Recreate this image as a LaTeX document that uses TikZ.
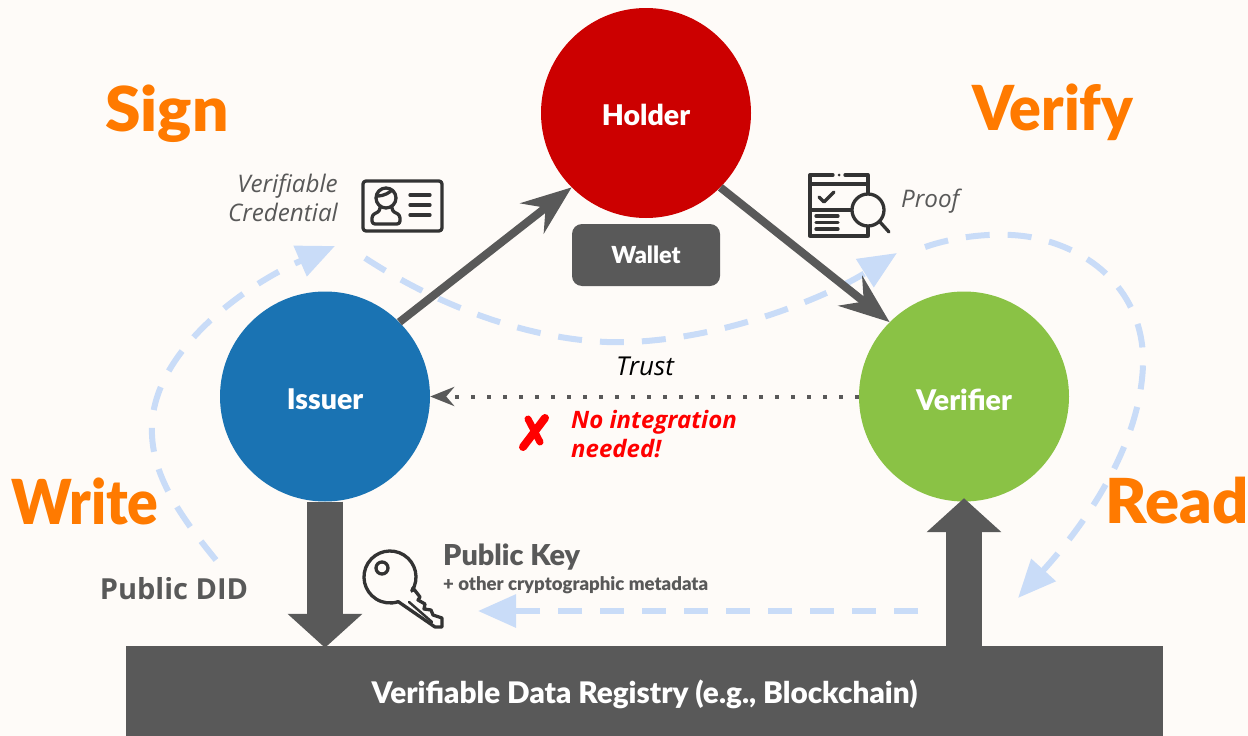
\documentclass[tikz,border=0pt]{standalone}
\usepackage{fontspec}
\setmainfont{Open Sans}
\newfontfamily\headfont[BoldFont={Lato Black}]{Lato}
\usetikzlibrary{arrows.meta,calc}
\newcommand{\dnbox}[2]{\raisebox{-#1}[\height][\depth]{#2}}
\definecolor{bgc}{HTML}{FEFBF8}
\definecolor{gr}{HTML}{595959}
\definecolor{ic}{HTML}{333333}
\definecolor{orng}{HTML}{FF7A00}
\definecolor{lb}{HTML}{C9DCF8}
\definecolor{hold}{HTML}{CC0000}
\definecolor{iss}{HTML}{1A73B3}
\definecolor{ver}{HTML}{8AC245}
\tikzset{
 circ/.style={circle,minimum size=210pt,inner sep=0pt,text=white,font=\headfont\bfseries\fontsize{28.5}{28}\selectfont},
 big/.style={text=orng,font=\headfont\bfseries\fontsize{62}{62}\selectfont,inner sep=0pt},
 thin arrow/.style={draw=gr,line width=8pt,-{Stealth[length=50pt,width=38pt,inset=17pt]}},
 fat arrow/.style={draw=gr,line width=36pt,-{Triangle[length=34pt,width=73pt]}},
 dash arrow/.style={draw=lb,line width=6pt,dash pattern=on 24pt off 18pt,-{Triangle[length=38pt,width=32pt]}},
 note/.style={text=gr,font=\itshape\fontsize{24.2}{29}\selectfont,inner sep=0pt},
 icon/.style={draw=ic,line width=3.3pt,line cap=round,line join=round},
}
\begin{document}
\begin{tikzpicture}[x=1pt,y=-1pt]
\useasboundingbox (0,0) rectangle (1248,736);
\fill[bgc] (0,0) rectangle (1248,736);
% nodes
\node[circ,fill=hold] (holder) at (646,113) {\dnbox{2pt}{Holder}};
\node[circ,fill=iss] (issuer) at (325,396.5) {\dnbox{3pt}{Issuer}};
\node[circ,fill=ver] (verifier) at (964,396.5) {\dnbox{3pt}{Verifier}};
\node[fill=gr,rounded corners=10pt,minimum width=148pt,minimum height=62pt,inner sep=0pt,text=white,font=\headfont\bfseries\fontsize{23.5}{23}\selectfont] (wallet) at (646,255) {Wallet};
\node[fill=gr,minimum width=1037pt,minimum height=90pt,inner sep=0pt,text=white,font=\headfont\bfseries\fontsize{29.7}{29}\selectfont] (registry) at (644.5,691) {\dnbox{3pt}{Verifiable Data Registry (e.g., Blockchain)}};
\node[big] (sign) at (167,114) {\scalebox{1.034}[1]{Sign}};
\node[big] (verify) at (1053,112) {\scalebox{0.953}[1]{Verify}};
\node[big] (write) at (85,501) {\scalebox{0.92}[1]{Write}};
\node[big] (read) at (1177,501) {\scalebox{1.02}[1]{Read}};
\node[note,align=right,anchor=east] (vc) at (338,198) {Verifiable\\Credential};
\node[note,anchor=west] (proof) at (901,201) {Proof};
\node[text=black,font=\itshape\fontsize{26}{26}\selectfont,inner sep=0pt] (trust) at (645,366) {Trust};
\node[text=red,font=\bfseries\itshape\fontsize{24}{29}\selectfont,align=left,anchor=west,inner sep=0pt] (noint) at (571,434) {No integration\\needed!};
\node[text=gr,font=\bfseries\fontsize{29}{29}\selectfont,inner sep=0pt] (did) at (174,589) {Public DID};
\node[text=gr,font=\headfont\bfseries\fontsize{28.8}{28}\selectfont,anchor=west,inner sep=0pt] (pk) at (443,557) {Public Key};
\node[text=gr,font=\headfont\bfseries\fontsize{18.6}{18}\selectfont,anchor=west,inner sep=0pt] (meta) at (443,585) {+ other cryptographic metadata};
% dashed
\coordinate (d1a) at (216,560); \coordinate (d1b) at (152,425); \coordinate (d1c) at (335,246);
\coordinate (d2a) at (365,258); \coordinate (d2b) at (630,342); \coordinate (d2c) at (897,253);
\coordinate (d3a) at (925,247); \coordinate (d3b) at (1030,237); \coordinate (d3c) at (1143,365); \coordinate (d3d) at (1018,598);
\coordinate (d4a) at (918,611); \coordinate (d4b) at (478,611);
\draw[dash arrow] (d1a) .. controls (175,510) and (150,470) .. (d1b) .. controls (155,350) and (245,285) .. (d1c);
\draw[dash arrow] (d2a) .. controls (460,320) and (560,345) .. (d2b) .. controls (730,338) and (830,295) .. (d2c);
\draw[dash arrow] (d3a) .. controls (960,235) and (1000,232) .. (d3b) .. controls (1100,250) and (1145,300) .. (d3c) .. controls (1140,450) and (1080,530) .. (d3d);
\draw[dash arrow] (d4a) -- (d4b);
% connectors
\draw[thin arrow] (issuer.45) -- (holder.225);
\draw[thin arrow] (holder.-45) -- (verifier.135);
\draw[fat arrow,shorten >=-2pt] (issuer.south) -- (issuer.south |- registry.north);
\draw[fat arrow,shorten >=-3.5pt] (verifier.south |- registry.north) -- (verifier.south);
\draw[draw=gr,line width=4pt,dash pattern=on 4pt off 12pt,-{Stealth[length=24pt,width=19pt,inset=8pt]}] (verifier.west) -- (issuer.east);
% X mark
\draw[red,line width=8pt,line cap=round] (545,418) -- (523,447);
\draw[red,line width=7pt,line cap=round] (528,419) -- (540,442);
% ID icon
\draw[icon,rounded corners=3pt] (363,181) rectangle (442,231);
\draw[icon] (386,198) circle (10pt);
\draw[icon] (377,196) .. controls (385,196) and (390,192) .. (392,190);
\draw[icon,rounded corners=3pt] (380,207) -- (380,211) -- (372,215) -- (372,224) -- (400,224) -- (400,215) -- (392,211) -- (392,207);
\draw[icon] (410,195) -- (430,195) (410,205) -- (430,205) (410,215) -- (430,215);
% proof icon
\draw[icon] (833,175) -- (810,175) -- (810,236) -- (868,236) -- (868,175) -- (845,175);
\fill[ic] (839,175) circle (1.5pt);
\draw[icon] (810,184) -- (868,184) (810,210) -- (852,210);
\draw[icon] (819,197) -- (824,202) -- (834,192);
\draw[icon] (816,216) -- (838,216) (816,222.5) -- (838,222.5) (816,229) -- (838,229);
\filldraw[icon,fill=bgc] (868,210) circle (16pt);
\draw[icon] (880,222) -- (889,232);
% key icon
\draw[icon] (390,577) ++(-32.5:26pt) arc[start angle=-32.5,end angle=288.4,radius=26pt];
\draw[icon] (382,568) circle (6pt);
\draw[icon] (412,591) -- (413,588) -- (420,597) -- (418,600) -- (425,604) -- (424,609) -- (431,610) -- (433,615) -- (442,618) -- (442,627) -- (435,627) -- (398,601.5);
\draw[icon,line width=2.5pt] (409,602) -- (432,622);
\end{tikzpicture}
\end{document}
